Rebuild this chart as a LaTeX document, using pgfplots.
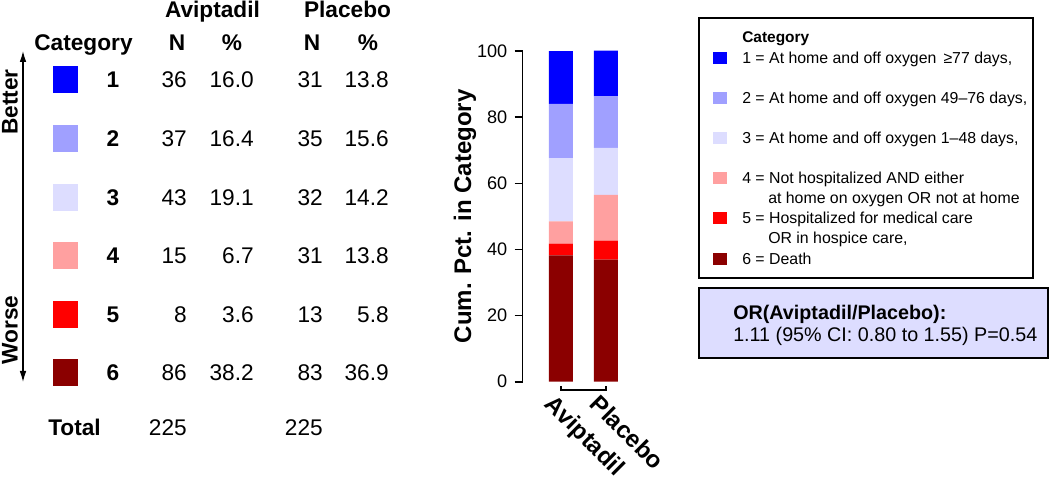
\documentclass[border=0pt]{standalone}
\usepackage{fontspec}
\setmainfont{Liberation Sans}
\usepackage{pgfplots}
\usepackage{pgfplotstable}
\pgfplotsset{compat=1.18}
\usetikzlibrary{arrows.meta}
\definecolor{cA}{RGB}{0,0,255}
\definecolor{cB}{RGB}{160,160,255}
\definecolor{cC}{RGB}{221,221,255}
\definecolor{cD}{RGB}{255,160,160}
\definecolor{cE}{RGB}{255,0,0}
\definecolor{cF}{RGB}{139,0,0}
\newcommand{\fs}[1]{\fontsize{#1}{#1}\selectfont}
\pgfplotstableread{
x c6 c5 c4 c3 c2 c1
0 38.2 3.6 6.7 19.1 16.4 16.0
1 36.9 5.8 13.8 14.2 15.6 13.8
}\datatable
\begin{document}
\begin{tikzpicture}
\begin{scope}[x=0.75pt,y=-0.75pt]
\useasboundingbox (0,0) rectangle (1050,478);
% arrow and labels
\draw[line width=1.5pt, {Latex[length=9pt,width=5pt]}-{Latex[length=9pt,width=5pt]}] (23,50) -- (23,383);
\node[rotate=90, font=\bfseries\fs{17pt}] at (10,102) {Better};
\node[rotate=90, font=\bfseries\fs{17pt}] at (10,330) {Worse};
% headers
\begin{scope}[every node/.style={inner sep=0pt, font=\bfseries\fs{17pt}}]
\node[anchor=base] at (212.5,17.5) {Aviptadil};
\node[anchor=base] at (347.5,17.5) {Placebo};
\node[anchor=base] at (83.5,51) {Category};
\node[anchor=base] at (177,51) {N};
\node[anchor=base] at (232,51) {\%};
\node[anchor=base] at (312,51) {N};
\node[anchor=base] at (368,51) {\%};
\node[anchor=base west] at (48,435) {Total};
\end{scope}
\begin{scope}[every node/.style={inner sep=0pt, font=\fs{17pt}}]
\foreach \y/\c/\n/\a/\b/\p/\q in {88/cA/1/36/16.0/31/13.8, 146.6/cB/2/37/16.4/35/15.6, 205.2/cC/3/43/19.1/32/14.2, 263.8/cD/4/15/6.7/31/13.8, 322.4/cE/5/8/3.6/13/5.8, 381/cF/6/86/38.2/83/36.9}{
  \fill[\c] (53,\y-21.5) rectangle (78,\y+5.5);
  \node[anchor=base, font=\bfseries\fs{17pt}] at (113,\y) {\n};
  \node[anchor=base east] at (187,\y) {\a};
  \node[anchor=base east] at (254,\y) {\b};
  \node[anchor=base east] at (323,\y) {\p};
  \node[anchor=base east] at (389,\y) {\q};
}
\node[anchor=base east] at (187,435) {225};
\node[anchor=base east] at (323,435) {225};
\end{scope}
% legend box
\draw[line width=1.3pt] (699,18) rectangle (1033,278);
\begin{scope}[every node/.style={inner sep=0pt, font=\fs{11.9pt}, anchor=base west}]
\node[font=\bfseries\fs{11.6pt}] at (742,42.5) {Category};
\foreach \yc/\c in {58/cA, 98/cB, 138/cC, 178/cD, 218/cE, 259/cF}{
  \fill[\c] (713,\yc-6) rectangle (727,\yc+6);
}
\node at (742,63.5) {1 = At home and off oxygen \,≥77 days,};
\node at (742,103.5) {2 = At home and off oxygen 49–76 days,};
\node at (742,143.5) {3 = At home and off oxygen 1–48 days,};
\node at (742,183.5) {4 = Not hospitalized AND either};
\node at (768,203.5) {at home on oxygen OR not at home};
\node at (742,223.5) {5 = Hospitalized for medical care};
\node at (768,243.5) {OR in hospice care,};
\node at (742,264.5) {6 = Death};
\end{scope}
% OR box
\draw[line width=1.8pt, fill=cC] (699,288) rectangle (1048,358);
\node[inner sep=0pt, anchor=base west, font=\bfseries\fs{14.8pt}] at (733,320) {OR(Aviptadil/Placebo):};
\node[inner sep=0pt, anchor=base west, font=\fs{14.8pt}] at (733,342) {1.11 (95\% CI: 0.80 to 1.55) P=0.54};
\end{scope}
\begin{axis}[
  at={(392.0pt,-286.3pt)}, anchor=south west,
  scale only axis, width=91.2pt, height=248pt,
  xmin=-0.851, xmax=1.851, ymin=0, ymax=100,
  axis x line=bottom, axis y line=left,
  x axis line style={draw=none},
  y axis line style={-, line width=1.2pt},
  ybar stacked, bar width=18pt,
  xtick={0,1}, xticklabels={Aviptadil,Placebo},
  x tick style={draw=none},
  ytick={0,20,40,60,80,100},
  y tick style={black, line width=1.2pt},
  tick align=outside, major tick length=6pt,
  xticklabel style={rotate=-45, anchor=north west, font=\bfseries\fs{18pt}, xshift=-4pt, yshift=-1pt},
  yticklabel style={font=\fs{13.6pt}, xshift=-2pt},
  /pgf/number format/assume math mode=true,
  ylabel={Cum. Pct. in Category},
  ylabel style={font=\bfseries\fs{18pt}, at={(axis description cs:-0.4745,0.5)}, anchor=center, rotate=0},
  clip=false,
]
\addplot[fill=cF, draw=none] table[x=x,y=c6]{\datatable};
\addplot[fill=cE, draw=none] table[x=x,y=c5]{\datatable};
\addplot[fill=cD, draw=none] table[x=x,y=c4]{\datatable};
\addplot[fill=cC, draw=none] table[x=x,y=c3]{\datatable};
\addplot[fill=cB, draw=none] table[x=x,y=c2]{\datatable};
\addplot[fill=cA, draw=none] table[x=x,y=c1]{\datatable};
\draw[line width=1.5pt] (axis cs:0,-1.3) -- (axis cs:0,-2.6) -- (axis cs:1,-2.6) -- (axis cs:1,-1.3);
\end{axis}
\end{tikzpicture}
\end{document}
